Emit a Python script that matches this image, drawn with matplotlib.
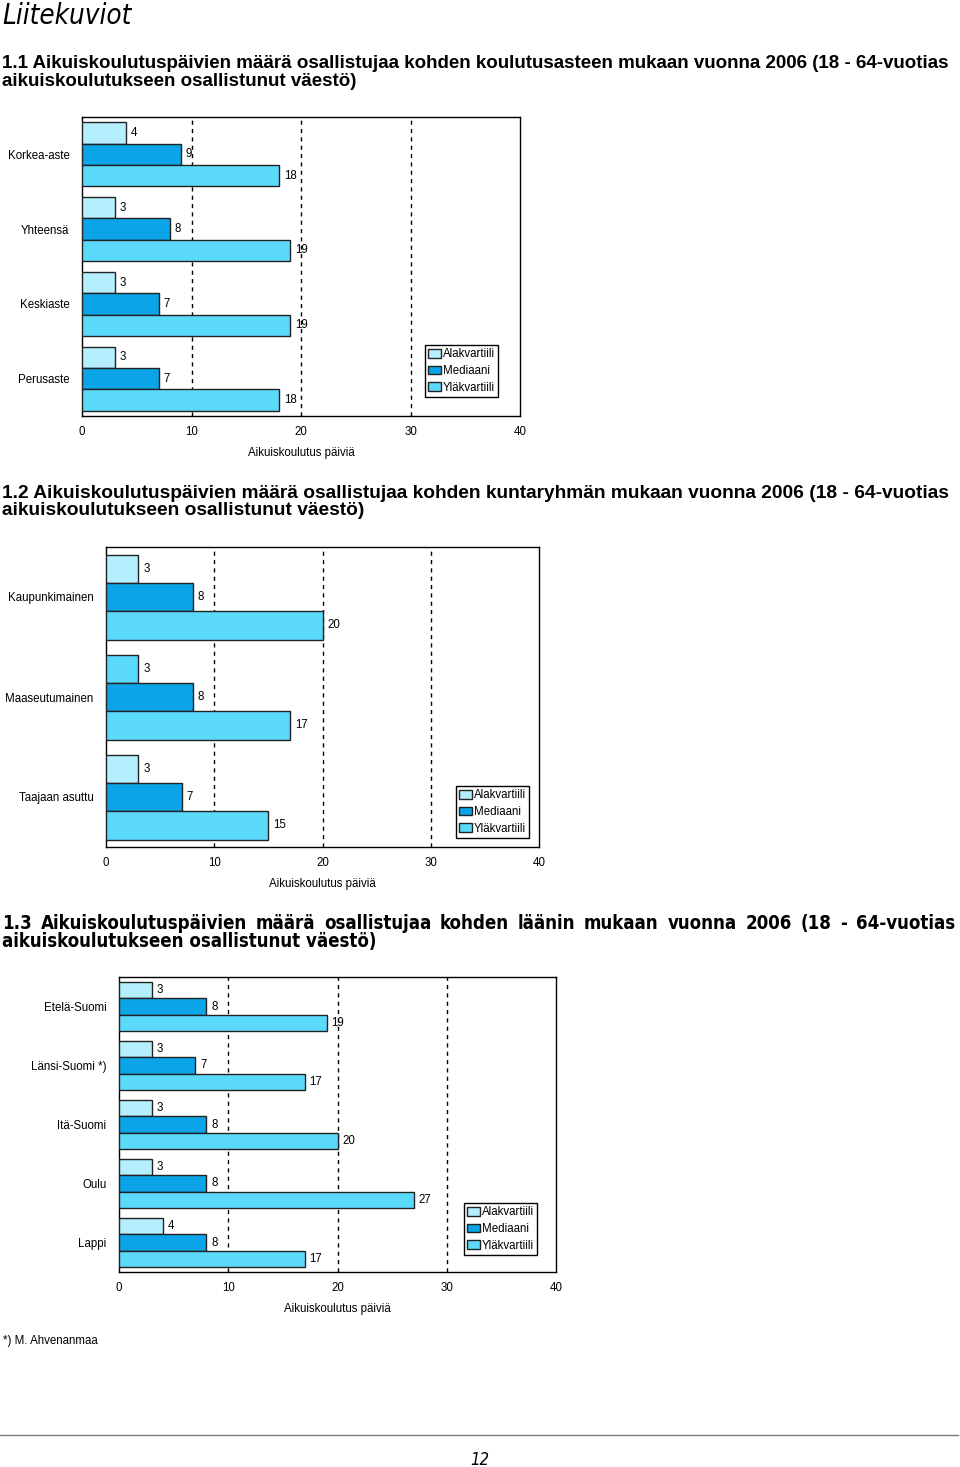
import matplotlib
matplotlib.use('Agg')
import matplotlib.pyplot as plt
from matplotlib import font_manager
from matplotlib.font_manager import FontProperties
from matplotlib.patches import Patch

W, H = 960, 1467

# series and colours
series = ['Alakvartiili', 'Mediaani', 'Yläkvartiili']
colors = ['#b5eefc', '#0ba4e8', '#5ad9fb']

# 1.1 koulutusaste
c1_cats = ['Korkea-aste', 'Yhteensä', 'Keskiaste', 'Perusaste']
c1_ala = [4, 3, 3, 3]
c1_med = [9, 8, 7, 7]
c1_yla = [18, 19, 19, 18]

# 1.2 kuntaryhmä
c2_cats = ['Kaupunkimainen', 'Maaseutumainen', 'Taajaan asuttu']
c2_ala = [3, 3, 3]
c2_med = [8, 8, 7]
c2_yla = [20, 17, 15]

# 1.3 lääni
c3_cats = ['Etelä-Suomi', 'Länsi-Suomi *)', 'Itä-Suomi', 'Oulu', 'Lappi']
c3_ala = [3, 3, 3, 3, 4]
c3_med = [8, 7, 8, 8, 8]
c3_yla = [19, 17, 20, 27, 17]

xticks = [0, 10, 20, 30, 40]
xlabel = 'Aikuiskoulutus päiviä'

t11 = ['1.1 Aikuiskoulutuspäivien määrä osallistujaa kohden koulutusasteen mukaan vuonna 2006 (18 - 64-vuotias',
       'aikuiskoulutukseen osallistunut väestö)']
t12 = ['1.2 Aikuiskoulutuspäivien määrä osallistujaa kohden kuntaryhmän mukaan vuonna 2006 (18 - 64-vuotias',
       'aikuiskoulutukseen osallistunut väestö)']
t13 = ['1.3 Aikuiskoulutuspäivien määrä osallistujaa kohden läänin mukaan vuonna 2006 (18 - 64-vuotias',
       'aikuiskoulutukseen osallistunut väestö)']

plt.rcParams['font.family'] = ['Liberation Sans', 'DejaVu Sans']
FS = 8.3

# condensed face for the 1.3 heading, if one is installed
cond_path = font_manager.findfont(FontProperties(family='DejaVu Sans', stretch='condensed', weight='bold'))
if 'Condensed' in cond_path:
    NARROW = dict(family='DejaVu Sans', stretch='condensed')
else:
    NARROW = dict(family='Liberation Sans')


def rect(x0, y0, x1, y1):
    return [x0 / W, 1 - y1 / H, (x1 - x0) / W, (y1 - y0) / H]


def fit(t, target, renderer):
    # scale font so the text spans target pixels (two passes, hinting is not linear)
    for _ in range(3):
        w = t.get_window_extent(renderer).width
        t.set_fontsize(t.get_fontsize() * target / w)
    while t.get_window_extent(renderer).width > target:
        t.set_fontsize(t.get_fontsize() * 0.995)
    return t.get_fontsize()


def draw_chart(fig, box, cats, vals, group_w, leg_xy, alt_colors=None):
    ax = fig.add_axes(rect(*box))
    n = len(cats)
    bh = group_w / 3
    for k, v in enumerate(vals):
        ys = [i + (k - 1) * bh for i in range(n)]
        cols = [colors[k]] * n
        if alt_colors and k in alt_colors:
            cols = alt_colors[k]
        ax.barh(ys, v, height=bh, color=cols, edgecolor='#222222', linewidth=1, zorder=3)
        for y, val in zip(ys, v):
            ax.annotate(str(val), (val, y), xytext=(3.5, 0), textcoords='offset points',
                        ha='left', va='center', fontsize=FS, zorder=4)
    ax.set_ylim(n - 0.5, -0.5)
    ax.set_xlim(0, 40)
    ax.set_xticks(xticks)
    ax.set_yticks(range(n))
    ax.set_yticklabels(cats)
    ax.tick_params(length=0, labelsize=FS)
    ax.tick_params(axis='x', pad=7)
    ax.tick_params(axis='y', pad=9)
    for x in xticks[1:-1]:
        ax.axvline(x, color='black', lw=1, ls=(0, (3, 3)), zorder=1)
    for s in ax.spines.values():
        s.set_linewidth(1)
    ax.set_xlabel(xlabel, fontsize=FS, labelpad=7)
    handles = [Patch(facecolor=c, edgecolor='#222222') for c in colors]
    leg = ax.legend(handles, series, loc='upper left',
                    bbox_to_anchor=(leg_xy[0] / W, 1 - leg_xy[1] / H),
                    bbox_transform=fig.transFigure, fontsize=FS,
                    fancybox=False, edgecolor='black', framealpha=1,
                    handlelength=1.1, handleheight=0.8, handletextpad=0.15,
                    labelspacing=0.4, borderpad=0.3, borderaxespad=0)
    leg.get_frame().set_linewidth(1)
    return ax


fig = plt.figure(figsize=(W / 100, H / 100), dpi=100)
renderer = fig.canvas.get_renderer()

head = fig.text(2 / W, 1 - 16 / H, 'Liitekuviot', fontsize=22, style='italic',
                va='center', ha='left', **NARROW)
fit(head, 130, renderer)

for lines, y0 in [(t11, 63), (t12, 493)]:
    l1 = fig.text(2 / W, 1 - y0 / H, lines[0], fontsize=12, weight='bold', va='center', ha='left')
    fs = fit(l1, 953, renderer)
    fig.text(2 / W, 1 - (y0 + 18) / H, lines[1], fontsize=fs, weight='bold', va='center', ha='left')

# 1.3 heading: narrow face, first line justified to the page width
l2 = fig.text(2 / W, 1 - 942 / H, t13[1], fontsize=12, weight='bold', va='center', ha='left', **NARROW)
fs13 = fit(l2, 375, renderer)
words = t13[0].split(' ')
objs = [fig.text(0, 1 - 924 / H, w, fontsize=fs13, weight='bold', va='center', ha='left', **NARROW)
        for w in words]
widths = [o.get_window_extent(renderer).width for o in objs]
gap = (953 - sum(widths)) / (len(words) - 1)
x = 2
for o, wd in zip(objs, widths):
    o.set_x(x / W)
    x += wd + gap

draw_chart(fig, (82, 117, 520, 416), c1_cats, [c1_ala, c1_med, c1_yla], 0.853, (425, 345))
draw_chart(fig, (106, 547, 539, 847), c2_cats, [c2_ala, c2_med, c2_yla], 0.85, (456, 786),
           alt_colors={0: [colors[0], colors[2], colors[0]]})
draw_chart(fig, (119, 977, 556, 1272), c3_cats, [c3_ala, c3_med, c3_yla], 0.83, (464, 1203))

fig.text(3 / W, 1 - 1341 / H, '*) M. Ahvenanmaa', fontsize=FS, va='center', ha='left')

fig.add_artist(plt.Line2D([0, 958 / W], [1 - 1435 / H] * 2, color='#777777', lw=1))
fig.text(480 / W, 1 - 1460 / H, '12', fontsize=12, style='italic',
         ha='center', va='center', **NARROW)

fig.savefig('out.png', dpi=100)
